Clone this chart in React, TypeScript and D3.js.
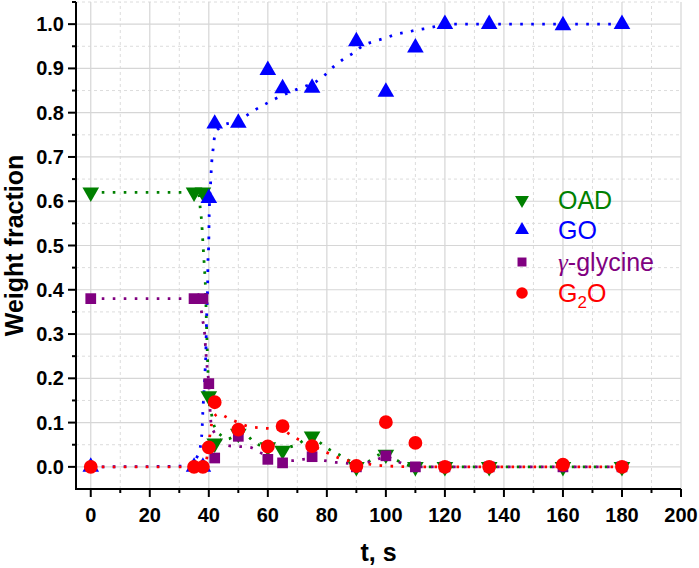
import * as d3 from "d3";

// sample times, s
const times = [0, 35, 38, 40, 42, 50, 60, 65, 75, 90, 100, 110, 120, 135, 160, 180];

// measured weight fractions
const oad = [0.62, 0.62, 0.62, 0.16, 0.053, 0.075, 0.045, 0.037, 0.069, 0, 0.028, 0, 0, 0, 0, 0];
const go = [0, 0, 0, 0.607, 0.775, 0.777, 0.896, 0.855, 0.856, 0.961, 0.847, 0.947, 1.0, 1.0, 0.997, 1.0];
const glycine = [0.38, 0.38, 0.38, 0.188, 0.02, 0.069, 0.017, 0.009, 0.023, 0, 0.025, 0, 0, 0, 0, 0];
const g2o = [0, 0, 0, 0.044, 0.146, 0.084, 0.046, 0.092, 0.047, 0.002, 0.101, 0.054, 0, 0, 0.005, 0];

// dotted guide curves as [t, fraction]
const oadCurve: [number, number][] = [
  [0, 0.62], [36.5, 0.62], [37.1, 0.584], [37.6, 0.551], [37.9, 0.518], [38.2, 0.484],
  [38.5, 0.452], [38.9, 0.4], [39.1, 0.35], [39.4, 0.28], [39.7, 0.218], [40, 0.16],
  [40.5, 0.13], [41, 0.116], [41.5, 0.1], [42.2, 0.086], [44, 0.072], [46.3, 0.063],
  [50, 0.072], [52.3, 0.072], [56, 0.052], [60, 0.046], [65, 0.043], [70.6, 0.053],
  [72.5, 0.062], [75, 0.066], [77, 0.058], [80.4, 0.041], [84.3, 0.027], [88.8, 0.01],
  [91, 0.005], [94.4, 0.013], [97.6, 0.027], [100, 0.03], [104, 0.014], [108, 0.003],
  [112, 0], [180, 0],
];
const goCurve: [number, number][] = [
  [0, 0], [34, 0.002], [34.9, 0.01], [36, 0.022], [37.1, 0.044], [37.7, 0.082],
  [38, 0.127], [38.4, 0.173], [38.8, 0.225], [39, 0.256], [39.1, 0.29], [39.3, 0.347],
  [39.6, 0.41], [39.7, 0.459], [40, 0.512], [40.1, 0.561], [40.2, 0.587], [40.6, 0.64],
  [41, 0.689], [41.5, 0.72], [42.2, 0.755], [43.5, 0.765], [45, 0.772], [48, 0.778],
  [52, 0.79], [55.3, 0.805], [58.5, 0.817], [62.7, 0.832], [69.2, 0.851], [72.8, 0.86],
  [76.3, 0.87], [79.3, 0.885], [82.3, 0.904], [85.2, 0.919], [89, 0.935], [92.4, 0.952],
  [95.9, 0.961], [99.5, 0.968], [103.6, 0.977], [107.2, 0.982], [110.7, 0.987],
  [115, 0.992], [118.5, 0.997], [122, 1.0], [180, 1.0],
];
const glycineCurve: [number, number][] = [
  [0, 0.38], [37, 0.38], [37.4, 0.357], [37.9, 0.332], [38.5, 0.308], [39, 0.26],
  [39.5, 0.22], [40, 0.188], [40.5, 0.12], [40.8, 0.097], [41.8, 0.078], [44, 0.06],
  [46.6, 0.048], [50, 0.046], [54, 0.044], [57.3, 0.033], [60, 0.022], [64, 0.015],
  [68, 0.014], [72, 0.017], [75, 0.018], [79.3, 0.014], [83.2, 0.01], [87, 0.008],
  [90, 0.005], [95, 0.012], [100, 0.022], [104, 0.012], [108, 0.002], [112, 0], [180, 0],
];
const g2oCurve: [number, number][] = [
  [0, 0], [38, 0], [39, 0.01], [39.8, 0.04], [40.5, 0.078], [41.4, 0.109], [43.3, 0.12],
  [46.6, 0.11], [50, 0.1], [53.6, 0.091], [57.6, 0.088], [61.8, 0.086], [65, 0.083],
  [68.6, 0.068], [72, 0.057], [76, 0.045], [79.8, 0.033], [83.4, 0.022], [87.1, 0.014],
  [90, 0.01], [94.4, 0.006], [98.3, 0.003], [104, 0.001], [110, 0], [180, 0],
];

const xMajor = d3.range(0, 201, 20);
const xMinor = d3.range(10, 200, 20);
const yMajor = d3.range(0, 11).map(i => i / 10);
const yMinor = d3.range(0, 11).map(i => i / 10 + 0.05);

const W = 699, H = 568;
const font = "'Liberation Sans', Arial, Helvetica, sans-serif";

export default function App() {
  const x = d3.scaleLinear().domain([-5, 200]).range([76, 681]);
  const y = d3.scaleLinear().domain([-0.05, 1.05]).range([489, 2]);
  const [y0, y1] = y.range();
  const [x0, x1] = x.range();

  const curve = d3.line<[number, number]>().x(d => x(d[0])).y(d => y(d[1])).curve(d3.curveMonotoneX);

  const series = [
    { name: "OAD", color: "#008000", vals: oad, fit: oadCurve, sym: d3.symbolTriangle, size: 120, rot: 180 },
    { name: "GO", color: "#0000ff", vals: go, fit: goCurve, sym: d3.symbolTriangle, size: 120, rot: 0 },
    { name: "glycine", color: "#800080", vals: glycine, fit: glycineCurve, sym: d3.symbolSquare, size: 115, rot: 0 },
    { name: "G2O", color: "#ff0000", vals: g2o, fit: g2oCurve, sym: d3.symbolCircle, size: 150, rot: 0 },
  ];

  const legendY = [200, 230, 262, 293];

  return (
    <svg width={W} height={H} style={{ position: "absolute", left: 0, top: 0, background: "#fff" }} fontFamily={font}>
      <rect width={W} height={H} fill="#fff" />
      {/* grid */}
      <g>
        {xMinor.map(t => (
          <line key={"xm" + t} x1={x(t)} x2={x(t)} y1={y0} y2={y1} stroke="#dcdcdc" strokeWidth={1} strokeDasharray="3 3" />
        ))}
        {yMinor.map(v => (
          <line key={"ym" + v} x1={x0} x2={x1} y1={y(v)} y2={y(v)} stroke="#dcdcdc" strokeWidth={1} strokeDasharray="3 3" />
        ))}
        {xMajor.map(t => (
          <line key={"xM" + t} x1={x(t)} x2={x(t)} y1={y0} y2={y1} stroke="#d6d6d6" strokeWidth={1.2} />
        ))}
        {yMajor.map(v => (
          <line key={"yM" + v} x1={x0} x2={x1} y1={y(v)} y2={y(v)} stroke="#d6d6d6" strokeWidth={1.2} />
        ))}
      </g>

      {/* dotted curves */}
      {series.map(s => (
        <path key={"c" + s.name} d={curve(s.fit) || ""} fill="none" stroke={s.color} strokeWidth={2.8} strokeDasharray="2.6 8.4" />
      ))}

      {/* markers */}
      {series.map(s => {
        const path = d3.symbol().type(s.sym).size(s.size)() || "";
        return (
          <g key={"m" + s.name} fill={s.color}>
            {s.vals.map((v, i) => (
              <path key={i} d={path} transform={`translate(${x(times[i])},${y(v)}) rotate(${s.rot})`} />
            ))}
          </g>
        );
      })}

      {/* axes */}
      <g stroke="#000" strokeWidth={2}>
        <line x1={x0 - 1} x2={x1} y1={y0} y2={y0} />
        <line x1={x0} x2={x0} y1={y0 + 1} y2={y1} />
        {xMajor.map(t => <line key={"xt" + t} x1={x(t)} x2={x(t)} y1={y0} y2={y0 + 8} />)}
        {xMinor.map(t => <line key={"xn" + t} x1={x(t)} x2={x(t)} y1={y0} y2={y0 + 4} />)}
        {yMajor.map(v => <line key={"yt" + v} x1={x0} x2={x0 - 8} y1={y(v)} y2={y(v)} />)}
        {yMinor.map(v => <line key={"yn" + v} x1={x0} x2={x0 - 4} y1={y(v)} y2={y(v)} />)}
      </g>
      <g fontSize={20} fontWeight="bold" fill="#000">
        {xMajor.map(t => (
          <text key={"xl" + t} x={x(t)} y={522} textAnchor="middle">{t}</text>
        ))}
        {yMajor.map(v => (
          <text key={"yl" + v} x={64} y={y(v) + 7} textAnchor="end">{v.toFixed(1)}</text>
        ))}
      </g>
      <text x={(x0 + x1) / 2} y={561} textAnchor="middle" fontSize={25} fontWeight="bold">t, s</text>
      <text transform={`translate(23,${(y0 + y1) / 2}) rotate(-90)`} textAnchor="middle" fontSize={25} fontWeight="bold">Weight fraction</text>

      {/* legend */}
      {series.map((s, i) => {
        const path = d3.symbol().type(s.sym).size(s.size * 0.7)() || "";
        return (
          <g key={"l" + s.name}>
            <path d={path} fill={s.color} transform={`translate(522,${legendY[i]}) rotate(${s.rot})`} />
            <text x={558} y={legendY[i] + 9} fontSize={25} fill={s.color}>
              {s.name === "glycine" ? (
                <><tspan fontFamily="'Liberation Serif', serif" fontStyle="italic">γ</tspan>-glycine</>
              ) : s.name === "G2O" ? (
                <>G<tspan fontSize={17} dy={6}>2</tspan><tspan dy={-6}>O</tspan></>
              ) : s.name}
            </text>
          </g>
        );
      })}
    </svg>
  );
}
